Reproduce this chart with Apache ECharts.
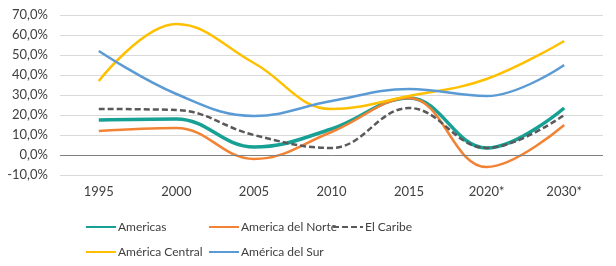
<!DOCTYPE html>
<html>
<head>
<meta charset="utf-8">
<script src="https://cdn.jsdelivr.net/npm/echarts@6/dist/echarts.min.js"></script>
<style>
    html, body { margin: 0; padding: 0; background: #fff; }
    #chart { width: 616px; height: 266px; }
</style>
</head>
<body>
<div id="chart"></div>
<script>
const years = ['1995', '2000', '2005', '2010', '2015', '2020*', '2030*'];
const americas = [17.5, 18, 4, 13, 28.5, 3.5, 23.5];
const norte = [12, 13.5, -2, 11.5, 28.5, -6, 15];
const caribe = [23, 22.5, 10, 3.5, 23.5, 3.5, 20];
const central = [37, 65.5, 46, 23, 29.5, 38, 57];
const sur = [52, 30.5, 19.5, 27, 33, 29.5, 45];

const FONT = 'Lato, "Noto Sans", sans-serif';
const TXT = '#404040';

// una leyenda por cada serie, colocada como en Excel
function legendAt(name, left, top) {
    return {
        data: [name],
        left: left,
        top: top,
        itemWidth: 30,
        itemHeight: 10,
        itemGap: 0,
        selectedMode: false,
        itemStyle: { opacity: 0 },
        textStyle: { fontFamily: FONT, fontSize: 12, color: TXT, padding: [0, 0, 0, -3] }
    };
}

function lineSeries(name, data, color, width, dashed) {
    return {
        name: name,
        type: 'line',
        data: data,
        smooth: 0.4,
        symbol: 'none',
        lineStyle: { color: color, width: width, type: dashed ? [6, 3] : 'solid' },
        itemStyle: { color: color }
    };
}

const chart = echarts.init(document.getElementById('chart'));
const series = [
    lineSeries('Americas', americas, '#17A094', 3.5, false),
    lineSeries('America del Norte', norte, '#F28334', 2.5, false),
    lineSeries('El Caribe', caribe, '#595959', 2.5, true),
    lineSeries('América Central', central, '#FFC000', 2.5, false),
    lineSeries('América del Sur', sur, '#5B9BD5', 2.5, false)
];
// línea del cero
series[0].markLine = {
    silent: true,
    symbol: 'none',
    label: { show: false },
    lineStyle: { color: '#808080', width: 1, type: 'solid' },
    data: [{ yAxis: 0 }]
};

chart.setOption({
    animation: false,
    grid: { left: 60, right: 13, top: 15, bottom: 91 },
    legend: [
        legendAt('Americas', 80, 216),
        legendAt('America del Norte', 203, 216),
        legendAt('El Caribe', 327, 216),
        legendAt('América Central', 80, 241),
        legendAt('América del Sur', 203, 241)
    ],
    xAxis: {
        type: 'category',
        data: years,
        boundaryGap: true,
        axisLine: { show: false, onZero: false },
        axisTick: { show: false },
        axisLabel: { margin: 10, fontFamily: FONT, fontSize: 13, color: TXT }
    },
    yAxis: {
        type: 'value',
        min: -10,
        max: 70,
        interval: 10,
        axisLine: { show: false },
        axisTick: { show: false },
        splitLine: { lineStyle: { color: '#D9D9D9', width: 1 } },
        axisLabel: {
            margin: 12,
            fontFamily: FONT,
            fontSize: 13,
            color: TXT,
            formatter: v => v.toFixed(1).replace('.', ',') + '%'
        }
    },
    series: series
});
</script>
</body>
</html>
